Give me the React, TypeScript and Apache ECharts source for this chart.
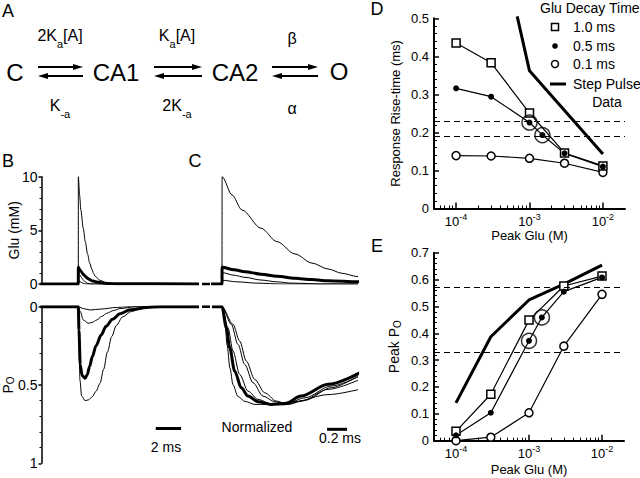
import React, { useEffect, useRef } from 'react';
import * as echarts from 'echarts';

const FONT = '"Liberation Sans", Arial, Helvetica, sans-serif';
const BLK = '#000';

// ---------- Panels D & E (x = peak glutamate, M) ----------
const concentrations = [1e-4, 3e-4, 1e-3, 3e-3, 1e-2];
const concentrations05 = [1e-4, 3e-4, 1e-3, 1.5e-3, 3e-3, 1e-2];
const riseTime10 = [0.435, 0.383, 0.251, 0.146, 0.112];
const riseTime05 = [0.316, 0.294, 0.226, 0.193, 0.145, 0.11];
const riseTime01 = [0.139, 0.138, 0.132, 0.119, 0.095];
const stepRiseConc = [6.8e-4, 1e-3, 1e-2];
const stepRiseTime = [0.505, 0.362, 0.143];
const circledConc = [1e-3, 1.5e-3];
const circledRise = [0.226, 0.193];
const riseDashed = [0.226, 0.193];

const peakPo10 = [0.035, 0.173, 0.449, 0.576, 0.613];
const peakPo05 = [0.02, 0.104, 0.372, 0.459, 0.555, 0.608];
const peakPo01 = [0.0, 0.013, 0.104, 0.352, 0.545];
const stepPeakPo = [0.141, 0.387, 0.524, 0.583, 0.654];
const circledPeak = [0.372, 0.459];
const peakDashed = [0.573, 0.328];

const logTicks = [-4, -3, -2];

// ---------- Panels B & C: glutamate transients (ms after release, mM) ----------
const gluTime1 = [-3, 0, 0.001, 0.1, 0.2, 0.39, 0.55, 0.73, 0.9, 1.06, 1.2, 1.35, 1.7, 2.2, 2.8, 3.5, 10];
const gluConc1 = [0, 0, 10, 8.3, 6.9, 5.2, 3.95, 2.8, 1.95, 1.4, 1.0, 0.7, 0.35, 0.13, 0.04, 0, 0];
const gluTime2 = [-3, 0, 0.001, 0.12, 0.23, 0.39, 0.55, 0.73, 0.9, 1.06, 1.36, 1.8, 2.4, 3.0, 10];
const gluConc2 = [0, 0, 1.56, 1.33, 1.15, 0.92, 0.72, 0.54, 0.41, 0.31, 0.21, 0.11, 0.05, 0.02, 0];
const gluTime3 = [-3, 0, 0.001, 0.12, 0.23, 0.39, 0.55, 0.7, 1.0, 10];
const gluConc3 = [0, 0, 1.06, 0.82, 0.62, 0.37, 0.2, 0.08, 0, 0];
const gluTime4 = [-3, 0, 0.001, 0.15, 0.35, 0.6, 10];
const gluConc4 = [0, 0, 0.35, 0.2, 0.08, 0, 0];

// ---------- Panel B: open probability (ms after release) ----------
const poTime1 = [-3, 0, 0.05, 0.13, 0.26, 0.53, 0.8, 1.1, 1.4, 1.71, 2.0, 2.3, 2.64, 3.0, 3.5, 4.2, 5.0, 6.0, 10];
const poVal1 = [0, 0, 0.2, 0.47, 0.57, 0.6, 0.595, 0.575, 0.54, 0.49, 0.4, 0.29, 0.19, 0.12, 0.065, 0.03, 0.01, 0, 0];
const poTime2 = [-3, 0, 0.05, 0.15, 0.3, 0.53, 0.7, 0.9, 1.1, 1.4, 1.8, 2.2, 2.7, 3.3, 4.1, 5.4, 6.5, 10];
const poVal2 = [0, 0, 0.15, 0.37, 0.44, 0.457, 0.435, 0.38, 0.32, 0.25, 0.18, 0.125, 0.08, 0.045, 0.02, 0.005, 0, 0];
const poTime3 = [-3, 0, 0.15, 0.4, 0.79, 1.1, 1.45, 1.85, 2.24, 2.8, 3.3, 4.5, 10];
const poVal3 = [0, 0, 0.03, 0.085, 0.106, 0.1, 0.085, 0.062, 0.042, 0.024, 0.012, 0, 0];
const poTime4 = [-3, 0, 0.4, 0.92, 1.8, 3, 4, 10];
const poVal4 = [0, 0, 0.012, 0.021, 0.015, 0.005, 0, 0];

// ---------- Panel C: normalized open probability ----------
const normTimeA = [-0.1, 0, 0.03, 0.05, 0.08, 0.11, 0.16, 0.23, 0.33, 0.46, 0.73, 1.06, 1.4];
const normValA = [0, 0, 0.15, 0.39, 0.63, 0.8, 0.92, 0.97, 1.0, 1.0, 0.97, 0.9, 0.84];
const normTimeB = [-0.1, 0, 0.043, 0.077, 0.127, 0.193, 0.26, 0.36, 0.49, 0.63, 0.79, 1.06, 1.4];
const normValB = [0, 0, 0.215, 0.42, 0.66, 0.83, 0.915, 0.973, 1.0, 0.993, 0.915, 0.795, 0.665];
const normTimeC = [-0.1, 0, 0.06, 0.11, 0.177, 0.26, 0.36, 0.49, 0.63, 0.83, 1.09, 1.4];
const normValC = [0, 0, 0.215, 0.454, 0.693, 0.864, 0.949, 0.993, 1.0, 0.932, 0.812, 0.7];
const normTimeD = [-0.1, 0, 0.093, 0.16, 0.227, 0.31, 0.41, 0.527, 0.643, 0.793, 1.06, 1.4];
const normValD = [0, 0, 0.181, 0.386, 0.59, 0.778, 0.915, 0.973, 1.0, 0.966, 0.846, 0.735];
const normTimeE = [-0.1, 0, 0.11, 0.177, 0.243, 0.327, 0.427, 0.543, 0.66, 0.827, 1.093, 1.4];
const normValE = [0, 0, 0.181, 0.352, 0.556, 0.744, 0.881, 0.966, 1.0, 0.959, 0.829, 0.68];

// scale bars (ms, value)
const scaleBarBTime = [6.12, 8.12];
const scaleBarBPo = 0.777;
const scaleBarCTime = [1.05, 1.25];
const scaleBarCNorm = 1.255;

const X_MIN = Math.log10(5e-5);
const X_MAX = Math.log10(2e-2);

function buildOption() {
  const pairs = (xs: number[], ys: number[]) => xs.map((x, i) => [x, ys[i]]);
  const logPairs = (cs: number[], ys: number[]) => cs.map((c, i) => [Math.log10(c), ys[i]]);

  const minorLogTicks: number[] = [];
  for (let n = -5; n <= -2; n++) {
    for (let k = 2; k <= 9; k++) {
      const v = Math.log10(k * Math.pow(10, n));
      if (v > X_MIN + 1e-6 && v < X_MAX - 1e-6) minorLogTicks.push(v);
    }
  }

  const trace = (xi: number, yi: number, xs: number[], ys: number[], w: number) => ({
    type: 'line', xAxisIndex: xi, yAxisIndex: yi, data: pairs(xs, ys),
    symbol: 'none', showSymbol: false, smooth: 0.3, smoothMonotone: 'x',
    lineStyle: { color: BLK, width: w }, silent: true, clip: true, z: w > 2 ? 3 : 2,
    emphasis: { disabled: true },
  });

  const markerSeries = (xi: number, yi: number, data: number[][], symbol: string, size: number, fill: string, bw: number, extra: any = {}) => ({
    type: 'line', xAxisIndex: xi, yAxisIndex: yi, data, symbol, symbolSize: size,
    showSymbol: true, showAllSymbol: true,
    lineStyle: { color: BLK, width: 1.2 },
    itemStyle: { color: fill, borderColor: BLK, borderWidth: bw },
    silent: true, z: 4, emphasis: { disabled: true }, ...extra,
  });

  const dashed = (vals: number[]) => ({
    silent: true, symbol: ['none', 'none'], label: { show: false },
    lineStyle: { color: BLK, width: 1, type: [6, 4] },
    emphasis: { disabled: true },
    data: vals.map((v) => ({ yAxis: v })),
  });

  const tickRich = {
    b: { fontSize: 13, fontFamily: FONT, color: BLK, lineHeight: 15, verticalAlign: 'bottom' },
    s: { fontSize: 9, fontFamily: FONT, color: BLK, lineHeight: 7, verticalAlign: 'top' },
  };

  const logXAxis = (grid: number, nameGap: number) => ({
    type: 'value', gridIndex: grid, min: X_MIN, max: X_MAX, position: 'bottom',
    axisLine: { show: true, onZero: false, lineStyle: { color: BLK, width: 2 } },
    axisTick: { show: true, inside: true, length: 6, customValues: logTicks, lineStyle: { color: BLK, width: 1.5 } },
    axisLabel: { show: true, customValues: logTicks, margin: 4, formatter: (v: number) => `{b|10}{s|${Math.round(v)}}`, rich: tickRich },
    splitLine: { show: false },
    name: 'Peak Glu (M)', nameLocation: 'middle', nameGap, nameMoveOverlap: false,
    nameTextStyle: { fontSize: 13, fontFamily: FONT, color: BLK },
  });
  const minorXAxis = (grid: number) => ({
    type: 'value', gridIndex: grid, min: X_MIN, max: X_MAX, position: 'bottom',
    axisLine: { show: false, onZero: false }, axisLabel: { show: false }, splitLine: { show: false },
    axisTick: { show: true, inside: true, length: 3, customValues: minorLogTicks, lineStyle: { color: BLK, width: 1 } },
  });
  const hiddenX = (grid: number, min: number, max: number) => ({
    type: 'value', gridIndex: grid, min, max, show: false,
    axisLine: { onZero: false }, splitLine: { show: false },
  });
  const hiddenY = (grid: number, min: number, max: number, inverse: boolean) => ({
    type: 'value', gridIndex: grid, min, max, inverse, show: false,
    axisLine: { onZero: false }, splitLine: { show: false },
  });

  const subName = (size: number) => ({
    fontFamily: FONT, color: BLK,
    rich: {
      p: { fontSize: size, fontFamily: FONT, color: BLK, lineHeight: 15, verticalAlign: 'top' },
      o: { fontSize: size - 4, fontFamily: FONT, color: BLK, lineHeight: 8, verticalAlign: 'bottom' },
    },
  });

  const linearY = (grid: number, max: number, interval: number, inside: boolean, labelFmt: (v: number) => string, extra: any) => ({
    type: 'value', gridIndex: grid, min: 0, max, interval, position: 'left',
    axisLine: { show: true, onZero: false, lineStyle: { color: BLK, width: inside ? 2 : 1.5 } },
    axisTick: { show: true, inside, length: inside ? 5 : 3, lineStyle: { color: BLK, width: 1.5 } },
    minorTick: { show: true, splitNumber: 5, length: inside ? 3 : 2, lineStyle: { color: BLK, width: 1 } },
    axisLabel: { show: true, fontSize: inside ? 13 : 14, fontFamily: FONT, color: BLK, margin: inside ? 5 : 4, formatter: labelFmt },
    splitLine: { show: false }, minorSplitLine: { show: false },
    nameLocation: 'middle', nameRotate: 90, nameMoveOverlap: false,
    ...extra,
  });

  const fmt1 = (v: number) => (v === 0 ? '0' : v.toFixed(1));
  const fmtB = (v: number) => (v === 0 ? '0' : v === 1 ? '1' : String(v));

  const series: any[] = [];
  const glu = [
    { t: gluTime1, v: gluConc1, w: 1 },
    { t: gluTime3, v: gluConc3, w: 1 },
    { t: gluTime4, v: gluConc4, w: 1 },
    { t: gluTime2, v: gluConc2, w: 3 },
  ];
  glu.forEach((g) => {
    series.push(trace(0, 0, g.t, g.v, g.w));
    series.push(trace(2, 2, g.t, g.v, g.w));
  });
  [
    { t: poTime4, v: poVal4, w: 1 },
    { t: poTime3, v: poVal3, w: 1 },
    { t: poTime1, v: poVal1, w: 1 },
    { t: poTime2, v: poVal2, w: 3 },
  ].forEach((p) => series.push(trace(1, 1, p.t, p.v, p.w)));
  [
    { t: normTimeA, v: normValA, w: 1 },
    { t: normTimeC, v: normValC, w: 1 },
    { t: normTimeD, v: normValD, w: 1 },
    { t: normTimeE, v: normValE, w: 1 },
    { t: normTimeB, v: normValB, w: 3 },
  ].forEach((p) => series.push(trace(3, 3, p.t, p.v, p.w)));

  series.push({
    type: 'line', xAxisIndex: 1, yAxisIndex: 1, symbol: 'none', silent: true,
    data: scaleBarBTime.map((t) => [t, scaleBarBPo]), lineStyle: { color: BLK, width: 3 },
  });
  series.push({
    type: 'line', xAxisIndex: 3, yAxisIndex: 3, symbol: 'none', silent: true, clip: false,
    data: scaleBarCTime.map((t) => [t, scaleBarCNorm]), lineStyle: { color: BLK, width: 3 },
  });

  // Panel D
  series.push({
    type: 'line', xAxisIndex: 4, yAxisIndex: 4, data: logPairs(stepRiseConc, stepRiseTime),
    symbol: 'none', lineStyle: { color: BLK, width: 3 }, clip: false, z: 3, silent: true,
  });
  series.push(markerSeries(4, 4, logPairs(concentrations, riseTime01), 'circle', 8, '#fff', 1.5, { markLine: dashed(riseDashed) }));
  series.push(markerSeries(4, 4, logPairs(concentrations, riseTime10), 'rect', 8, '#fff', 1.5));
  series.push(markerSeries(4, 4, logPairs(concentrations05, riseTime05), 'circle', 6, BLK, 0));
  series.push({
    type: 'scatter', xAxisIndex: 4, yAxisIndex: 4, data: logPairs(circledConc, circledRise),
    symbol: 'circle', symbolSize: 15, silent: true, z: 5,
    itemStyle: { color: 'rgba(0,0,0,0)', borderColor: BLK, borderWidth: 1.5 },
  });

  // Panel E
  series.push({
    type: 'line', xAxisIndex: 6, yAxisIndex: 5, data: logPairs(concentrations, stepPeakPo),
    symbol: 'none', lineStyle: { color: BLK, width: 3 }, z: 3, silent: true,
  });
  series.push(markerSeries(6, 5, logPairs(concentrations, peakPo01), 'circle', 8, '#fff', 1.5, { markLine: dashed(peakDashed), clip: false }));
  series.push(markerSeries(6, 5, logPairs(concentrations, peakPo10), 'rect', 8, '#fff', 1.5));
  series.push(markerSeries(6, 5, logPairs(concentrations05, peakPo05), 'circle', 6, BLK, 0));
  series.push({
    type: 'scatter', xAxisIndex: 6, yAxisIndex: 5, data: logPairs(circledConc, circledPeak),
    symbol: 'circle', symbolSize: 15, silent: true, z: 5,
    itemStyle: { color: 'rgba(0,0,0,0)', borderColor: BLK, borderWidth: 1.5 },
  });

  // ---------- graphic: panel A scheme, labels, legend ----------
  const text = (t: string, x: number, y: number, size: number, align = 'center', extra: any = {}) => ({
    type: 'text', x, y, silent: true,
    style: {
      text: t, fill: BLK, fontSize: size, fontFamily: FONT,
      align, verticalAlign: 'middle', textAlign: align, textVerticalAlign: 'middle', ...extra,
    },
  });
  const subRich = (size: number) => ({
    n: { fontSize: size, fontFamily: FONT, fill: BLK, color: BLK, lineHeight: size + 6, verticalAlign: 'top' },
    s: { fontSize: Math.round(size * 0.68), fontFamily: FONT, fill: BLK, color: BLK, lineHeight: 10, verticalAlign: 'bottom' },
  });
  const richText = (t: string, x: number, y: number, size: number) => text(t, x, y, size, 'center', { rich: subRich(size) });

  const arrowPair = (x1: number, x2: number) => {
    const yt = 67, yb = 76;
    return [
      { type: 'line', silent: true, shape: { x1, y1: yt, x2: x2 - 8, y2: yt }, style: { stroke: BLK, lineWidth: 2 } },
      { type: 'polygon', silent: true, shape: { points: [[x2 - 10, yt - 3], [x2, yt], [x2 - 10, yt + 3]] }, style: { fill: BLK } },
      { type: 'line', silent: true, shape: { x1: x1 + 8, y1: yb, x2, y2: yb }, style: { stroke: BLK, lineWidth: 2 } },
      { type: 'polygon', silent: true, shape: { points: [[x1 + 10, yb - 3], [x1, yb], [x1 + 10, yb + 3]] }, style: { fill: BLK } },
    ];
  };

  const graphic: any[] = [
    text('A', 8, 11, 18),
    text('B', 8, 161, 18),
    text('C', 195, 161, 18),
    text('D', 377, 9, 18),
    text('E', 377, 246, 18),
    text('C', 15, 72, 24),
    text('CA1', 116, 72, 24),
    text('CA2', 235, 72, 24),
    text('O', 339, 71, 24),
    richText('{n|2K}{s|a}{n|[A]}', 60, 38, 16),
    richText('{n|K}{s|a}{n|[A]}', 177, 38, 16),
    text('β', 292, 38, 16),
    richText('{n|K}{s|-a}', 60, 108, 16),
    richText('{n|2K}{s|-a}', 177, 108, 16),
    text('α', 292, 108, 16),
    ...arrowPair(38, 83),
    ...arrowPair(154, 202),
    ...arrowPair(272, 318),
    // axis break dashes between B and C
    { type: 'line', silent: true, shape: { x1: 202, y1: 284, x2: 210, y2: 284 }, style: { stroke: BLK, lineWidth: 2.5 } },
    { type: 'line', silent: true, shape: { x1: 202, y1: 306.7, x2: 210, y2: 306.7 }, style: { stroke: BLK, lineWidth: 2.5 } },
    text('2 ms', 166, 447, 14),
    text('Normalized', 257, 427, 14),
    text('0.2 ms', 340, 438, 14),
    // legend in D
    text('Glu Decay Time', 540, 8, 14, 'left'),
    { type: 'rect', silent: true, shape: { x: 551.5, y: 23.5, width: 7, height: 7 }, style: { fill: '#fff', stroke: BLK, lineWidth: 1.5 } },
    text('1.0 ms', 573, 27, 14, 'left'),
    { type: 'circle', silent: true, shape: { cx: 555, cy: 46, r: 2.8 }, style: { fill: BLK } },
    text('0.5 ms', 573, 46, 14, 'left'),
    { type: 'circle', silent: true, shape: { cx: 555, cy: 64, r: 3.5 }, style: { fill: '#fff', stroke: BLK, lineWidth: 1.5 } },
    text('0.1 ms', 573, 64, 14, 'left'),
    { type: 'line', silent: true, shape: { x1: 550, y1: 84, x2: 566, y2: 84 }, style: { stroke: BLK, lineWidth: 3 } },
    text('Step Pulse', 573, 84, 14, 'left'),
    text('Data', 607, 102, 14),
  ];

  return {
    animation: false,
    backgroundColor: '#fff',
    textStyle: { fontFamily: FONT, color: BLK },
    tooltip: { show: false },
    grid: [
      { left: 41.5, top: 176.7, width: 155.5, height: 107.3, outerBoundsMode: 'none', containLabel: false },
      { left: 41.5, top: 306.7, width: 155.5, height: 156.6, outerBoundsMode: 'none', containLabel: false },
      { left: 213, top: 176.7, width: 144, height: 107.3, outerBoundsMode: 'none', containLabel: false },
      { left: 213, top: 306.7, width: 144, height: 127, outerBoundsMode: 'none', containLabel: false },
      { left: 434, top: 18.3, width: 191, height: 190.2, outerBoundsMode: 'none', containLabel: false },
      { left: 434, top: 252.7, width: 190, height: 188, outerBoundsMode: 'none', containLabel: false },
    ],
    xAxis: [
      hiddenX(0, -2.91, 9.38),
      hiddenX(1, -2.91, 9.38),
      hiddenX(2, -0.09, 1.35),
      hiddenX(3, -0.09, 1.35),
      logXAxis(4, 20),
      minorXAxis(4),
      logXAxis(5, 22),
      minorXAxis(5),
    ],
    yAxis: [
      linearY(0, 10, 5, false, fmtB, {
        name: 'Glu (mM)', nameGap: 21, nameTextStyle: { fontSize: 14, fontFamily: FONT, color: BLK },
      }),
      linearY(1, 1, 0.5, false, fmtB, {
        inverse: true, name: '{p|P}{o|O}', nameGap: 26, nameTextStyle: subName(14),
      }),
      hiddenY(2, 0, 10, false),
      hiddenY(3, 0, 1.3, true),
      linearY(4, 0.5, 0.1, true, fmt1, {
        name: 'Response Rise-time (ms)', nameGap: 32, nameTextStyle: { fontSize: 13, fontFamily: FONT, color: BLK },
      }),
      linearY(5, 0.7, 0.1, true, fmt1, {
        name: '{p|Peak P}{o|O}', nameGap: 32, nameTextStyle: subName(14),
      }),
    ],
    series,
    graphic,
  };
}

export default function App() {
  const ref = useRef<HTMLDivElement>(null);
  useEffect(() => {
    if (!ref.current) return;
    const chart = echarts.init(ref.current, null, { renderer: 'svg', width: 640, height: 478 });
    chart.setOption(buildOption() as any);
    return () => chart.dispose();
  }, []);
  return (
    <div
      ref={ref}
      style={{ position: 'absolute', left: 0, top: 0, width: 640, height: 478, background: '#fff' }}
    />
  );
}
